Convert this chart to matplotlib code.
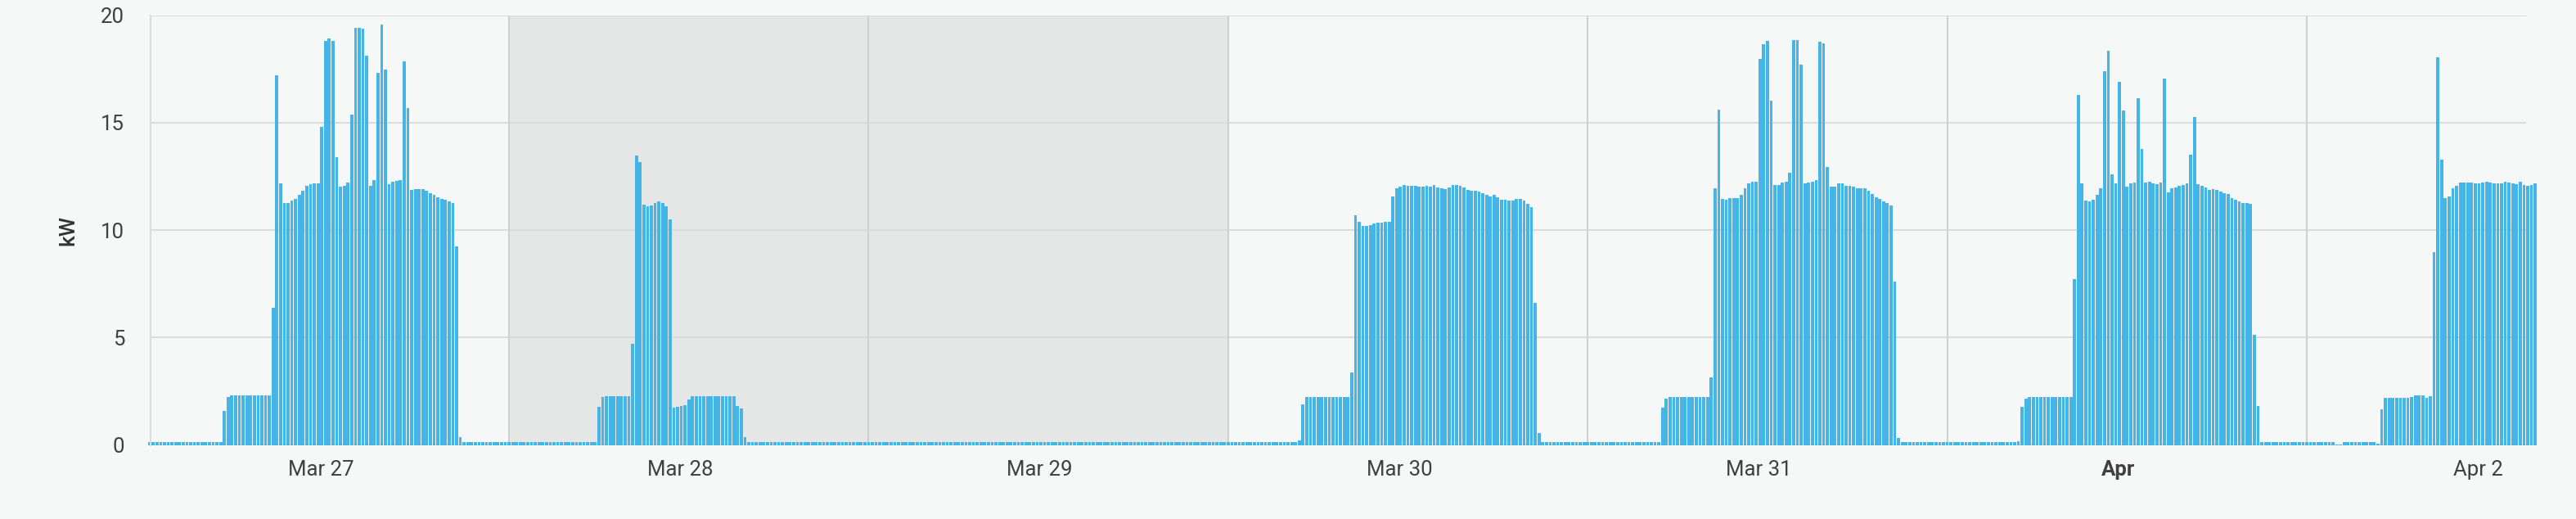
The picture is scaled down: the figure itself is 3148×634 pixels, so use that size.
import numpy as np
import pandas as pd
import matplotlib
matplotlib.use("Agg")
import matplotlib.pyplot as plt
import matplotlib.dates as mdates

## 1. Data: 15-minute average power in kW
START = "2026-03-27 00:00"
END = "2026-04-02 15:15"
STANDBY_KW = 0.12  # the small dashes between runs

mar27_start = "2026-03-27 05:00"
mar27_kw = [1.6, 2.24, 2.3, 2.3, 2.3, 2.3, 2.3, 2.3, 2.3, 2.3, 2.3, 2.3, 2.3,
            6.38, 17.2, 12.16, 11.28, 11.28, 11.37, 11.46, 11.65, 11.85, 12.08,
            12.12, 12.18, 12.18, 14.79, 18.8, 18.9, 18.79, 13.39, 12.04, 12.05,
            12.23, 15.39, 19.41, 19.41, 19.37, 18.12, 12.05, 12.31, 17.32, 19.55,
            17.47, 12.14, 12.27, 12.29, 12.31, 17.84, 15.67, 11.86, 11.89, 11.92,
            11.9, 11.82, 11.73, 11.66, 11.51, 11.47, 11.4, 11.33, 11.28, 9.24, 0.38]

mar28_start = "2026-03-28 06:00"
mar28_kw = [1.78, 2.22, 2.28, 2.28, 2.28, 2.28, 2.28, 2.28, 2.28,
            4.7, 13.48, 13.15, 11.18, 11.1, 11.14, 11.27, 11.32, 11.27, 11.12, 10.51,
            1.74, 1.78, 1.83, 1.86, 2.12,
            2.28, 2.28, 2.28, 2.28, 2.28, 2.28, 2.28, 2.28, 2.28, 2.28, 2.28, 2.28,
            1.81, 1.7, 0.35]

mar30_start = "2026-03-30 04:45"
mar30_kw = [0.21, 1.88, 2.25, 2.25, 2.25, 2.25, 2.25, 2.25, 2.25, 2.25, 2.25, 2.25,
            2.25, 2.25, 3.38,
            10.69, 10.4, 10.18, 10.18, 10.22, 10.31, 10.35, 10.35, 10.37, 10.4,
            11.58, 11.95, 12.03, 12.1, 12.06, 12.05, 12.05, 12.01, 12.03, 12.05,
            12.01, 12.1, 11.97, 11.93, 11.9, 11.98, 12.1, 12.1, 12.05, 11.97,
            11.88, 11.83, 11.83, 11.78, 11.72, 11.64, 11.58, 11.64, 11.52, 11.41,
            11.4, 11.38, 11.38, 11.45, 11.45, 11.39, 11.22, 11.06, 6.61, 0.54]

mar31_start = "2026-03-31 05:00"
mar31_kw = [1.75, 2.17, 2.22, 2.22, 2.22, 2.22, 2.22, 2.22, 2.22, 2.22, 2.22, 2.22,
            2.22, 3.14,
            11.95, 15.6, 11.45, 11.41, 11.48, 11.49, 11.5, 11.64, 11.95, 12.17,
            12.24, 12.25, 17.95, 18.66, 18.81, 16.01, 12.11, 12.11, 12.21, 12.27,
            12.67, 18.84, 18.84, 17.7, 12.17, 12.23, 12.25, 12.31, 18.77, 18.68,
            12.95, 12.04, 12.04, 12.17, 12.16, 12.05, 12.08, 12.01, 11.95, 11.96,
            11.96, 11.84, 11.67, 11.53, 11.44, 11.32, 11.28, 11.16, 7.6, 0.33]

apr01_start = "2026-04-01 04:45"
apr01_kw = [0.19, 1.78, 2.17, 2.22, 2.22, 2.22, 2.22, 2.22, 2.22, 2.22, 2.22, 2.22,
            2.22, 2.22, 2.22,
            7.73, 16.28, 12.16, 11.38, 11.34, 11.41, 11.64, 11.95, 17.39, 18.33,
            12.58, 12.16, 16.9, 15.56, 12.04, 12.16, 12.21, 16.13, 13.79, 12.21,
            12.27, 12.17, 12.12, 12.2, 17.04, 11.76, 11.93, 11.99, 12.07, 12.09,
            12.16, 13.5, 15.28, 12.12, 12.08, 11.97, 11.87, 11.91, 11.87, 11.81,
            11.73, 11.67, 11.5, 11.4, 11.32, 11.26, 11.25, 11.21, 5.14, 1.81]

apr02_start = "2026-04-02 02:00"
apr02_kw = [0.02, 0.02, 0.12, 0.12, 0.12, 0.12, 0.12, 0.12, 0.12, 0.12, 0.12, 0.05,
            1.67, 2.18, 2.21, 2.21, 2.21, 2.21, 2.21, 2.21, 2.25, 2.29, 2.29, 2.29,
            2.21, 2.26,
            8.99, 18.06, 13.28, 11.5, 11.56, 11.93, 12.05, 12.21, 12.21, 12.2,
            12.23, 12.19, 12.16, 12.2, 12.24, 12.21, 12.17, 12.19, 12.19, 12.25,
            12.2, 12.17, 12.12, 12.25, 12.11, 12.08, 12.11, 12.16]

day_labels = ["Mar 27", "Mar 28", "Mar 29", "Mar 30", "Mar 31", "Apr", "Apr 2"]
weekend = ("2026-03-28", "2026-03-30")

## 2. Build the 15-minute series
times = pd.date_range(START, END, freq="15min")
power = pd.Series(STANDBY_KW, index=times)
for start, kw in [(mar27_start, mar27_kw), (mar28_start, mar28_kw),
                  (mar30_start, mar30_kw), (mar31_start, mar31_kw),
                  (apr01_start, apr01_kw), (apr02_start, apr02_kw)]:
    power.loc[pd.date_range(start, periods=len(kw), freq="15min")] = kw

## 3. Plot
plt.rcParams['font.family'] = ['Roboto', 'DejaVu Sans']
BG = '#f6f7f7'
GRID = '#dcdcdc'
TEXT = '#404040'

fig = plt.figure(figsize=(31.48, 6.34), dpi=100, facecolor=BG)
ax = fig.add_axes([184 / 3148, 90.4 / 634, 2903 / 3148, 525 / 634])
ax.set_facecolor(BG)

x = mdates.date2num(times)
slot = 1 / 96
x0 = mdates.date2num(pd.Timestamp(START))

ax.axvspan(mdates.date2num(pd.Timestamp(weekend[0])),
           mdates.date2num(pd.Timestamp(weekend[1])),
           color='#e5e6e6', lw=0, zorder=0)

days = pd.date_range(START, periods=len(day_labels), freq="D")
for d in days[1:]:
    ax.axvline(mdates.date2num(d), color='#d0d0d0', lw=1.5, zorder=0.6)

ax.bar(x, power.values, width=slot * 0.82, color='#45b4e6', lw=0,
       zorder=2, clip_on=False)

ax.set_xlim(x0 + 0.003, x0 + 6.61)
ax.set_ylim(0, 20)
ax.set_yticks([0, 5, 10, 15, 20])
ax.yaxis.grid(True, color=GRID, lw=1.5)
ax.set_axisbelow(True)

ax.set_xticks(mdates.date2num(days) + 0.476)
ax.set_xticklabels(day_labels)
for lab in ax.get_xticklabels():
    if lab.get_text() == "Apr":
        lab.set_fontweight('bold')

ax.tick_params(axis='both', length=0, labelsize=18.5, colors=TEXT)
ax.tick_params(axis='y', pad=23)
ax.tick_params(axis='x', pad=13)

for side in ['top', 'right', 'bottom']:
    ax.spines[side].set_visible(False)
ax.spines['left'].set_color(GRID)
ax.spines['left'].set_linewidth(1.5)

fig.text(83 / 3148, 1 - 281 / 634, "kW", rotation=90, ha='center', va='center',
         fontsize=19, fontweight='medium', color='#333333')

fig.savefig("out.png", dpi=100, facecolor=BG)
